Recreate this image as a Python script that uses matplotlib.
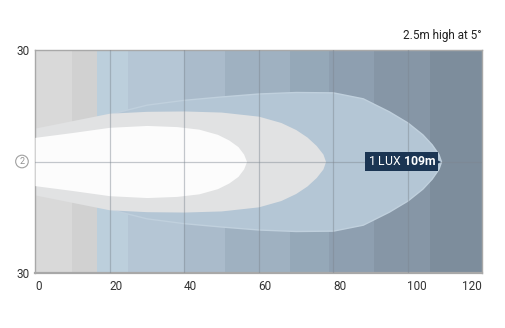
import numpy as np
import matplotlib
matplotlib.use("Agg")
import matplotlib.pyplot as plt

plt.rcParams['font.family'] = ['Liberation Sans Narrow', 'Roboto', 'DejaVu Sans']
plt.rcParams['mathtext.fontset'] = 'custom'
plt.rcParams['mathtext.bf'] = 'Roboto:bold'

# ---- data ----
x_ticks = [0, 20, 40, 60, 80, 100, 120]
x_tick_labels = ["0", "20", "40", "60", "80", "100", "120"]
y_tick_labels = ["30", "30"]
title_text = "2.5m high at 5°"
lux_value = 1
reach_m = 109

# beam outlines: distance (m) and half-width (m)
outer_dist = [0, 10, 20, 30, 40, 50, 60, 70, 80, 88, 95, 100, 104, 106.5, 108.3, 109]
outer_half = [8.5, 10.5, 12.8, 15.3, 16.6, 17.5, 18.3, 18.7, 18.6, 17, 13.5, 10.5, 7.3, 4.6, 2.0, 0]

mid_dist = [0, 10, 20, 30, 40, 50, 60, 66, 70, 73, 75.5, 77.3, 78]
mid_half = [9, 11, 13, 13.5, 13.6, 13.3, 12.2, 10.5, 8.6, 6.6, 4.3, 2.0, 0]

inner_dist = [0, 10, 20, 30, 38, 44, 49, 52, 54.5, 56, 56.8]
inner_half = [6.5, 7.8, 9.2, 9.7, 9.4, 8.7, 7.3, 5.8, 4.0, 2.0, 0]

# ---- style ----
band_edges = [0, 10, 16.7, 25, 40, 51, 68.5, 79, 91, 106, 120]
band_colors = ['#d9d9d9', '#d1d1d1', '#bccfdc', '#b5c6d5', '#aabbcb',
               '#9fb1c1', '#95a8b8', '#8e9fb0', '#8696a6', '#7d8d9c']

fig = plt.figure(figsize=(5.05, 3.28), dpi=100)
ax = fig.add_axes([35/505, 1-273/328, 447/505, 223/328])
ax.set_xlim(0, 120)
ax.set_ylim(-30, 30)

for i in range(len(band_colors)):
    ax.axvspan(band_edges[i], band_edges[i+1], color=band_colors[i], lw=0, zorder=0)

od = np.array(outer_dist); oh = np.array(outer_half)
md = np.array(mid_dist); mh = np.array(mid_half)
idd = np.array(inner_dist); ih = np.array(inner_half)

ax.fill_between(od, -oh, oh, color='#b4c6d5', lw=1.0, edgecolor='#c0d0dd', zorder=1)
ax.fill_between(md, -mh, mh, color='#e1e2e3', lw=0, zorder=2)
ax.fill_between(idd, -ih, ih, color='#fcfcfc', lw=0, zorder=3)

for xv in x_ticks[1:-1]:
    ax.axvline(xv, color='#7d8690', alpha=0.45, lw=0.9, zorder=4)
ax.axhline(0, color='#7d8690', alpha=0.45, lw=0.9, zorder=4)

for s in ax.spines.values():
    s.set_color('#a8a8a8')
    s.set_linewidth(1.0)
ax.spines['bottom'].set_linewidth(1.6)

ax.set_xticks(x_ticks)
ax.set_xticklabels(x_tick_labels)
ax.tick_params(axis='x', length=0, pad=5, labelsize=8.5, labelcolor='#333333')
for i, lab in enumerate(ax.get_xticklabels()):
    lab.set_ha('right' if i == len(x_ticks) - 1 else 'left')
ax.set_yticks([30, -30])
ax.set_yticklabels(y_tick_labels)
ax.tick_params(axis='y', length=0, pad=4, labelsize=8.5, labelcolor='#333333')

ax.text(-3.5, 0, "2", ha='center', va='center', fontsize=6.5, color='#909090',
        bbox=dict(boxstyle='circle,pad=0.2', fc='none', ec='#a0a0a0', lw=0.8),
        clip_on=False)

ax.text(1.0, 1.035, title_text, transform=ax.transAxes, ha='right', va='bottom',
        fontsize=8.5, color='#222222')

label = f"{lux_value} LUX " + r"$\mathbf{" + f"{reach_m}" + r"m}$"
ax.text(reach_m - 1.4, 0, label, ha='right', va='center', fontsize=8.8, color='white',
        zorder=6, bbox=dict(boxstyle='square,pad=0.22', fc='#1b3553', ec='none'))
ax.plot([reach_m - 0.9], [0], marker='>', ms=5, color='#1b3553', mew=0, zorder=6)

fig.savefig("out.png", dpi=100)
